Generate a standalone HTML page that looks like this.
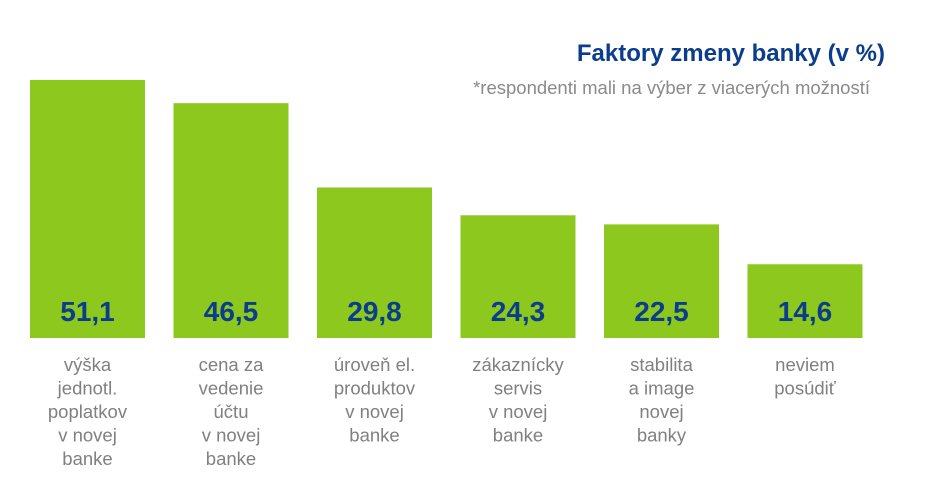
<!DOCTYPE html>
<html><head><meta charset="utf-8"><style>
body{margin:0;width:949px;height:490px;background:#fff;overflow:hidden;font-family:"Liberation Sans",sans-serif}
</style></head><body>
<svg width="949" height="490">
<text x="885" y="61" text-anchor="end" font-size="24" font-weight="bold" fill="#0b3d8c">Faktory zmeny banky (v %)</text>
<text x="870" y="94" text-anchor="end" font-size="18.5" fill="#8a8a8a">*respondenti mali na výber z viacerých možností</text>
<g id="bars"></g>
</svg>
<script>
const categories=[["výška","jednotl.","poplatkov","v novej","banke"],["cena za","vedenie","účtu","v novej","banke"],["úroveň el.","produktov","v novej","banke"],["zákaznícky","servis","v novej","banke"],["stabilita","a image","novej","banky"],["neviem","posúdiť"]];
const values=[51.1,46.5,29.8,24.3,22.5,14.6];
const valueLabels=["51,1","46,5","29,8","24,3","22,5","14,6"];
const base=338, scale=5.05, x0=30, step=143.5, bw=115;
const y=v=>base-v*scale;
const g=document.getElementById('bars');
const NS="http://www.w3.org/2000/svg";
values.forEach((v,i)=>{
  const x=x0+i*step;
  const r=document.createElementNS(NS,'rect');
  
  
  r.setAttribute('x',x);r.setAttribute('y',y(v));r.setAttribute('width',bw);r.setAttribute('height',base-y(v));r.setAttribute('fill','#8cc81e');
  g.appendChild(r);
  const t=document.createElementNS(NS,'text');
  
  
  t.setAttribute('x',x+bw/2);t.setAttribute('y',321);t.setAttribute('text-anchor','middle');t.setAttribute('font-size','28');t.setAttribute('font-weight','bold');t.setAttribute('fill','#0b3d8c');
  t.textContent=valueLabels[i];g.appendChild(t);
  categories[i].forEach((line,j)=>{
    const c=document.createElementNS(NS,'text');
    
    
    c.setAttribute('x',x+bw/2);c.setAttribute('y',371+j*23.5);c.setAttribute('text-anchor','middle');c.setAttribute('font-size','18.5');c.setAttribute('fill','#808080');
    c.textContent=line;g.appendChild(c);
  });
});
</script>
</body></html>
